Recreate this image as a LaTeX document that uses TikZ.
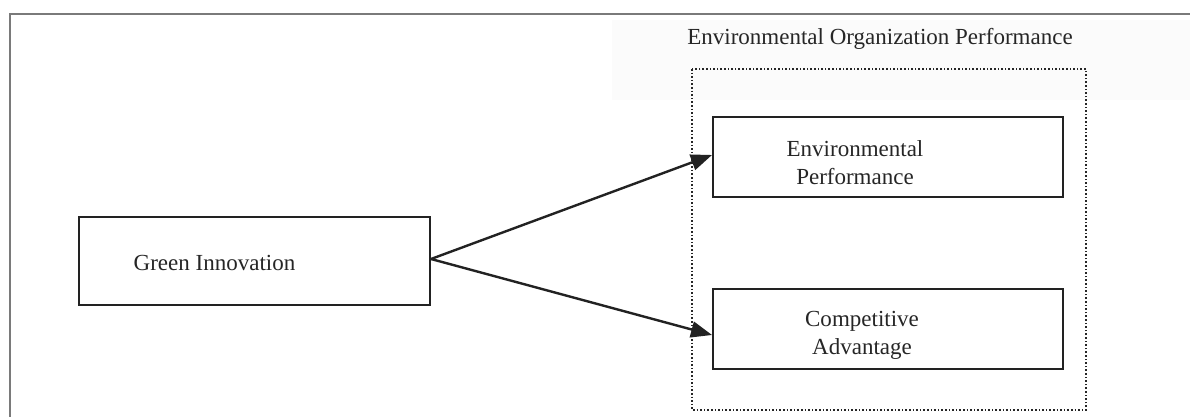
\documentclass[tikz,border=0pt]{standalone}
\usepackage{fontspec}
\setmainfont{Liberation Serif}
\usetikzlibrary{arrows.meta}
\definecolor{framegray}{HTML}{7A7A7A}
\definecolor{boxline}{HTML}{222222}
\definecolor{panel}{HTML}{FBFBFB}
\tikzset{
  px/.style={x=1pt,y=-1pt},
  box/.style={draw=boxline,line width=2pt,fill=white,rectangle,inner sep=0pt},
  lbl/.style={font=\fontsize{23}{28}\selectfont,text=black!85,align=center,inner sep=0pt},
  conn/.style={draw=boxline,line width=2.4pt,-{Triangle[length=21pt,width=16pt]}},
  grp/.style={draw=black!85,line width=1.6pt,dotted},
}
\begin{document}
\begin{tikzpicture}[px]
\useasboundingbox (0,0) rectangle (1190,417);
\fill[white] (0,0) rectangle (1190,417);
% faint title panel
\fill[panel] (612,20) rectangle (1190,100);
% outer frame
\draw[framegray,line width=2pt] (10,417) -- (10,14) -- (1190,14);
% title
\node[lbl,anchor=base] (title) at (880,45) {Environmental Organization Performance};
% group box
\draw[grp] (692,69) rectangle (1086,410);
% boxes
\node[box,minimum width=351pt,minimum height=88pt] (gi) at (254.5,261) {};
\node[box,minimum width=350pt,minimum height=80pt] (ep) at (888,157) {};
\node[box,minimum width=350pt,minimum height=80pt] (cp) at (888,329) {};
% labels
\node[lbl] (gitxt) at (214.5,263) {Green Innovation};
\node[lbl] (eptxt) at (855,163) {Environmental\\Performance};
\node[lbl] (cptxt) at (862,335) {Competitive\\Advantage};
% connectors
\draw[conn] ([yshift=2pt]gi.east) -- ([yshift=2pt]ep.west);
\draw[conn] ([yshift=2pt]gi.east) -- ([yshift=-6pt]cp.west);
\end{tikzpicture}
\end{document}
